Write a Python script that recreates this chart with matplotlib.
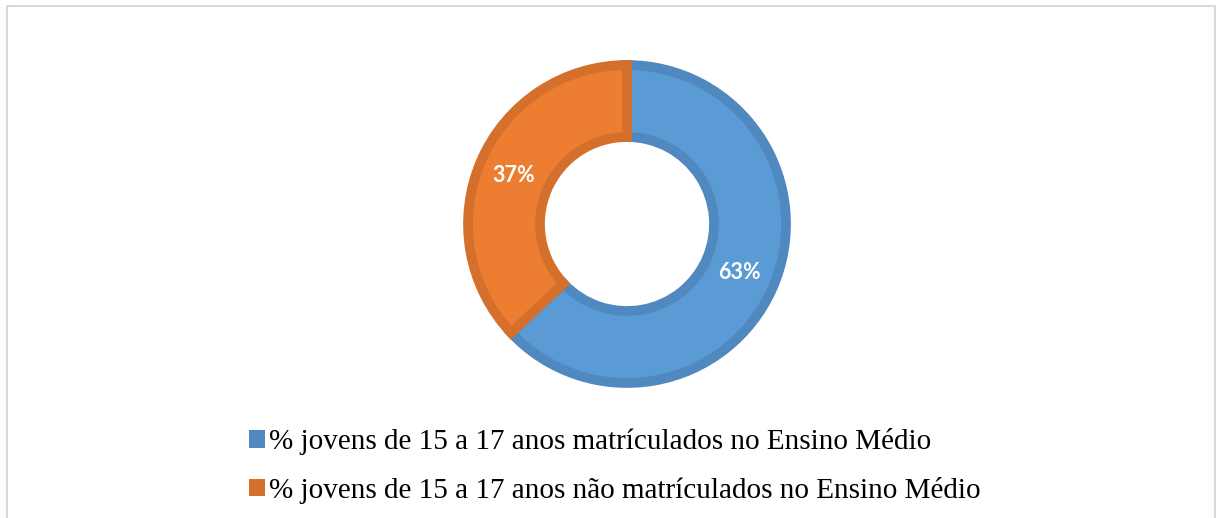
import matplotlib.pyplot as plt
from matplotlib.patches import Rectangle, Patch

labels = ['% jovens de 15 a 17 anos matrículados no Ensino Médio',
          '% jovens de 15 a 17 anos não matrículados no Ensino Médio']
values = [63, 37]
fill_colors = ['#5B9BD5', '#ED7D31']
edge_colors = ['#4F89C0', '#D5702C']

W, H = 1216, 518
fig = plt.figure(figsize=(W / 100, H / 100), dpi=100)

# frame around the chart area (bottom edge is cut off in the original)
fig.patches.append(Rectangle((7 / W, -0.05), 1208 / W, 1 - 6 / H + 0.05,
                             transform=fig.transFigure, fill=False,
                             edgecolor='#D9D9D9', linewidth=1.5))

# donut axes in pixel units, centred at (627, 223)
cx, cy, half = 627, 224, 180
ax = fig.add_axes([(cx - half) / W, (H - cy - half) / H, 2 * half / W, 2 * half / H])
wedges, texts, autotexts = ax.pie(
    values, startangle=90, counterclock=False, radius=159,
    colors=fill_colors, autopct='%1.0f%%', pctdistance=123 / 159,
    wedgeprops=dict(width=72, linewidth=7),
    textprops=dict(color='white', fontsize=15.5, fontweight='bold', family='Lato'))
for w, ec in zip(wedges, edge_colors):
    w.set_edgecolor(ec)
ax.set_xlim(-half, half)
ax.set_ylim(-half, half)
ax.set_aspect('equal')
ax.axis('off')

handles = [Patch(facecolor=c, edgecolor='none') for c in edge_colors]
fig.legend(handles, labels, loc='center left', bbox_to_anchor=(249 / W, 1 - 466 / H),
           frameon=False, prop=dict(family='Liberation Serif', size=21),
           handlelength=0.55, handleheight=0.55, handletextpad=0.15,
           labelspacing=0.75, borderaxespad=0, borderpad=0)

fig.savefig('out.png', dpi=100)
